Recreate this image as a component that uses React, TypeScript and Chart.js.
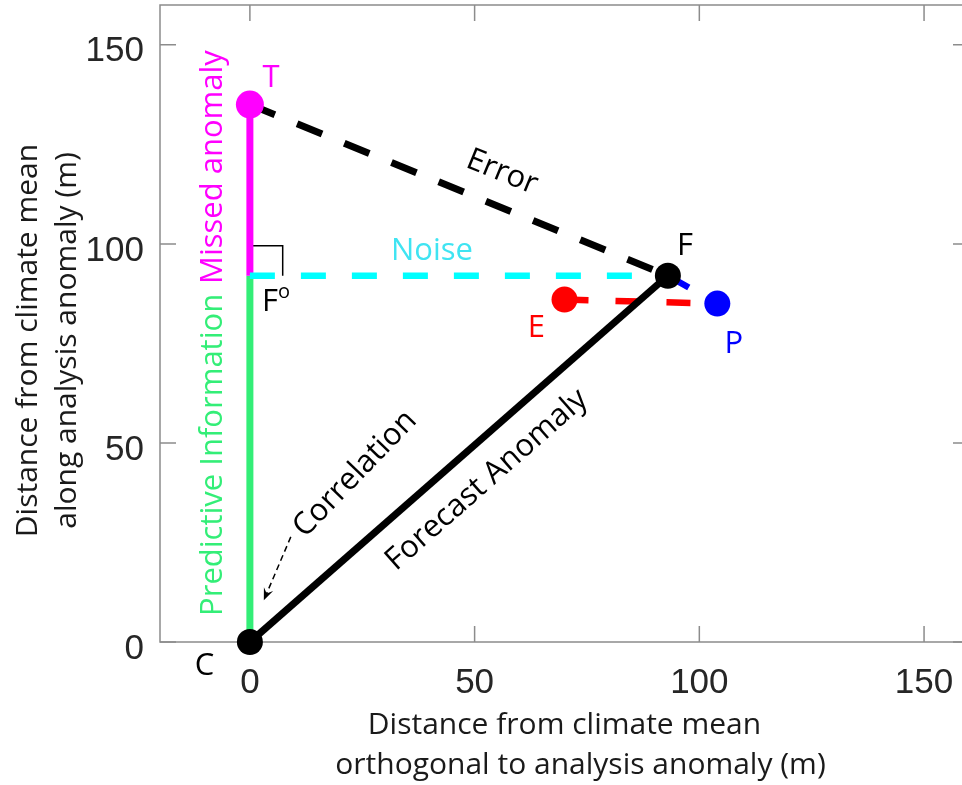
import React, { useEffect, useRef } from "react";
import { Chart, registerables } from "chart.js";

Chart.register(...registerables);

// Axis extents and tick values (m)
const xRange = [-20, 160];
const yRange = [0, 160];
const xTicks = [0, 50, 100, 150];
const yTicks = [0, 50, 100, 150];

// Key points of the forecast geometry (m)
const ptC = { x: 0, y: 0 }; // climate mean
const ptT = { x: 0, y: 135 }; // truth (analysis anomaly)
const ptF = { x: 93, y: 92 }; // forecast
const ptF0 = { x: 0, y: 92 }; // projection of F on the analysis anomaly
const ptE = { x: 70, y: 86 }; // ensemble mean
const ptP = { x: 104, y: 85 }; // perturbed member

// Right-angle marker at F° and the "Correlation" pointer
const rightAngleMark = [
  { x: 0, y: 99.5 },
  { x: 7.3, y: 99.5 },
  { x: 7.3, y: 92 },
];
const correlationPointer = [
  { x: 9.1, y: 26.4 },
  { x: 3.1, y: 10.5 },
];

const GREEN = "#33ee77";
const MAGENTA = "#ff00ff";
const CYAN = "#00ffff";
const RED = "#ff0000";
const BLUE = "#0000ff";
const BLACK = "#000000";

const TEXT_FONT = "'Open Sans', 'Noto Sans', sans-serif";
const TICK_FONT = "'Liberation Sans', Arial, sans-serif";

type Label = {
  text: string;
  x: number;
  y: number;
  color: string;
  angle?: number;
  baseline?: CanvasTextBaseline;
};

// In-plot annotations, positioned in data units
const annotations: Label[] = [
  { text: "T", x: 4.7, y: 139.3, color: MAGENTA, baseline: "alphabetic" },
  { text: "F", x: 96.8, y: 97.2, color: BLACK, baseline: "alphabetic" },
  { text: "E", x: 63.75, y: 76.6, color: RED, baseline: "alphabetic" },
  { text: "P", x: 107.7, y: 72.6, color: BLUE, baseline: "alphabetic" },
  { text: "C", x: -10.1, y: -8.3, color: BLACK, baseline: "alphabetic" },
  { text: "Noise", x: 40.5, y: 96.0, color: "#3fe4f2", baseline: "alphabetic" },
  { text: "Missed anomaly", x: -6.3, y: 119.3, color: MAGENTA, angle: -90, baseline: "alphabetic" },
  { text: "Predictive Information", x: -6.3, y: 47.0, color: GREEN, angle: -90, baseline: "alphabetic" },
  { text: "Error", x: 56.1, y: 118.0, color: BLACK, angle: 22.2, baseline: "middle" },
  { text: "Correlation", x: 23.4, y: 42.2, color: BLACK, angle: -46, baseline: "middle" },
  { text: "Forecast Anomaly", x: 52.7, y: 40.7, color: BLACK, angle: -41.3, baseline: "middle" },
];
const f0Label = { x: 2.67, y: 83.1 };

const xTitle = ["Distance from climate mean", "orthogonal to analysis anomaly (m)"];
const yTitle = ["Distance from climate mean", "along analysis anomaly (m)"];

// Axes box (left, top, bottom edges) with inward tick marks on all four sides
const framePlugin = {
  id: "frame",
  beforeDatasetsDraw(chart: any) {
    const { ctx, chartArea: a, scales } = chart;
    ctx.save();
    ctx.strokeStyle = "#8c8c8c";
    ctx.lineWidth = 1.5;
    ctx.beginPath();
    ctx.moveTo(a.right, a.top);
    ctx.lineTo(a.left, a.top);
    ctx.lineTo(a.left, a.bottom);
    ctx.lineTo(a.right, a.bottom);
    ctx.stroke();
    const len = 16;
    ctx.beginPath();
    xTicks.forEach((v) => {
      const px = scales.x.getPixelForValue(v);
      ctx.moveTo(px, a.bottom);
      ctx.lineTo(px, a.bottom - len);
      ctx.moveTo(px, a.top);
      ctx.lineTo(px, a.top + len);
    });
    yTicks.forEach((v) => {
      const py = scales.y.getPixelForValue(v);
      ctx.moveTo(a.left, py);
      ctx.lineTo(a.left + len, py);
      ctx.moveTo(a.right, py);
      ctx.lineTo(a.right - len, py);
    });
    ctx.stroke();
    ctx.restore();
  },
};

const annotationPlugin = {
  id: "annotations",
  afterDraw(chart: any) {
    const { ctx, scales, chartArea: a } = chart;
    const sx = (v: number) => scales.x.getPixelForValue(v);
    const sy = (v: number) => scales.y.getPixelForValue(v);
    ctx.save();

    // pointer arrowhead
    const p0 = { x: sx(correlationPointer[0].x), y: sy(correlationPointer[0].y) };
    const p1 = { x: sx(correlationPointer[1].x), y: sy(correlationPointer[1].y) };
    const ang = Math.atan2(p1.y - p0.y, p1.x - p0.x);
    const hl = 12;
    const hw = 5;
    ctx.fillStyle = BLACK;
    ctx.beginPath();
    ctx.moveTo(p1.x, p1.y);
    ctx.lineTo(p1.x - hl * Math.cos(ang) + hw * Math.sin(ang), p1.y - hl * Math.sin(ang) - hw * Math.cos(ang));
    ctx.lineTo(p1.x - 0.6 * hl * Math.cos(ang), p1.y - 0.6 * hl * Math.sin(ang));
    ctx.lineTo(p1.x - hl * Math.cos(ang) - hw * Math.sin(ang), p1.y - hl * Math.sin(ang) + hw * Math.cos(ang));
    ctx.closePath();
    ctx.fill();

    // text annotations
    ctx.font = `31px ${TEXT_FONT}`;
    annotations.forEach((l) => {
      ctx.save();
      ctx.translate(sx(l.x), sy(l.y));
      if (l.angle) ctx.rotate((l.angle * Math.PI) / 180);
      ctx.fillStyle = l.color;
      ctx.textAlign = "center";
      ctx.textBaseline = l.baseline || "middle";
      ctx.fillText(l.text, 0, 0);
      ctx.restore();
    });

    // F with superscript o
    ctx.fillStyle = BLACK;
    ctx.textAlign = "left";
    ctx.textBaseline = "alphabetic";
    const fx = sx(f0Label.x);
    const fy = sy(f0Label.y);
    ctx.fillText("F", fx, fy);
    const fw = ctx.measureText("F").width;
    ctx.font = `20px ${TEXT_FONT}`;
    ctx.fillText("o", fx + fw, fy - 13);

    // axis titles
    ctx.font = `30px ${TEXT_FONT}`;
    ctx.fillStyle = "#1a1a1a";
    ctx.textAlign = "center";
    ctx.textBaseline = "middle";
    const cx = (a.left + a.right) / 2;
    ctx.fillText(xTitle[0], cx, 725);
    ctx.fillText(xTitle[1], cx + 16, 765);
    const cy = (a.top + a.bottom) / 2 + 17;
    ctx.save();
    ctx.translate(28, cy);
    ctx.rotate(-Math.PI / 2);
    ctx.fillText(yTitle[0], 0, 0);
    ctx.restore();
    ctx.save();
    ctx.translate(67, cy);
    ctx.rotate(-Math.PI / 2);
    ctx.fillText(yTitle[1], 0, 0);
    ctx.restore();

    ctx.restore();
  },
};

function seg(points: { x: number; y: number }[], color: string, width: number, order: number, dash: number[] = []) {
  return {
    data: points,
    showLine: true,
    borderColor: color,
    borderWidth: width,
    borderDash: dash,
    borderCapStyle: "butt" as const,
    pointRadius: 0,
    pointHoverRadius: 0,
    tension: 0,
    fill: false,
    clip: false as any,
    order,
  };
}

function noScalePadding(s: any) {
  s.paddingTop = 0;
  s.paddingBottom = 0;
  s.paddingLeft = 0;
  s.paddingRight = 0;
}

export default function App() {
  const canvasRef = useRef<HTMLCanvasElement | null>(null);

  useEffect(() => {
    if (!canvasRef.current) return;
    const dots = [ptC, ptT, ptF, ptE, ptP];
    const chart = new Chart(canvasRef.current, {
      type: "scatter",
      data: {
        datasets: [
          // dots on top
          {
            data: dots,
            pointRadius: [13, 14, 13, 13, 13],
            pointHoverRadius: [13, 14, 13, 13, 13],
            pointBackgroundColor: [BLACK, MAGENTA, BLACK, RED, BLUE],
            pointBorderWidth: 0,
            showLine: false,
            clip: false as any,
            order: 0,
          },
          seg(correlationPointer, BLACK, 1.5, 1, [6, 4]),
          seg([ptC, ptF], BLACK, 7, 2),
          seg([ptF, ptP], BLUE, 6.5, 3, [24, 27]),
          seg([ptE, ptP], RED, 6.5, 4, [24, 27]),
          seg([ptT, ptF], BLACK, 7, 5, [27, 24]),
          seg([ptF0, ptF], CYAN, 6.5, 6, [25, 26]),
          seg([ptF0, ptT], MAGENTA, 7, 7),
          seg([ptC, ptF0], GREEN, 7, 8),
          seg(rightAngleMark, BLACK, 1.5, 9),
        ] as any,
      },
      options: {
        animation: false,
        responsive: false,
        devicePixelRatio: 1,
        events: [],
        layout: { autoPadding: false, padding: { top: 5, right: 1, left: 0, bottom: 0 } },
        plugins: {
          legend: { display: false },
          tooltip: { enabled: false },
        },
        scales: {
          x: {
            type: "linear",
            min: xRange[0],
            max: xRange[1],
            grid: { display: false, drawTicks: false },
            border: { display: false },
            ticks: {
              font: { family: TICK_FONT, size: 35 },
              color: "#262626",
              padding: 20,
              maxRotation: 0,
              autoSkip: false,
            },
            afterBuildTicks: (s: any) => {
              s.ticks = xTicks.map((v) => ({ value: v }));
            },
            afterFit: (s: any) => {
              s.height = 143;
              noScalePadding(s);
            },
          },
          y: {
            type: "linear",
            min: yRange[0],
            max: yRange[1],
            grid: { display: false, drawTicks: false },
            border: { display: false },
            ticks: {
              font: { family: TICK_FONT, size: 35 },
              color: "#262626",
              padding: 16,
              labelOffset: 7,
              autoSkip: false,
            },
            afterBuildTicks: (s: any) => {
              s.ticks = yTicks.map((v) => ({ value: v }));
            },
            afterFit: (s: any) => {
              s.width = 160;
              noScalePadding(s);
            },
          },
        },
      },
      plugins: [framePlugin, annotationPlugin],
    });
    return () => chart.destroy();
  }, []);

  return (
    <div
      style={{
        position: "fixed",
        left: 0,
        top: 0,
        width: 962,
        height: 785,
        overflow: "hidden",
        background: "#ffffff",
      }}
    >
      <canvas ref={canvasRef} width={970} height={785} style={{ display: "block" }} />
    </div>
  );
}
